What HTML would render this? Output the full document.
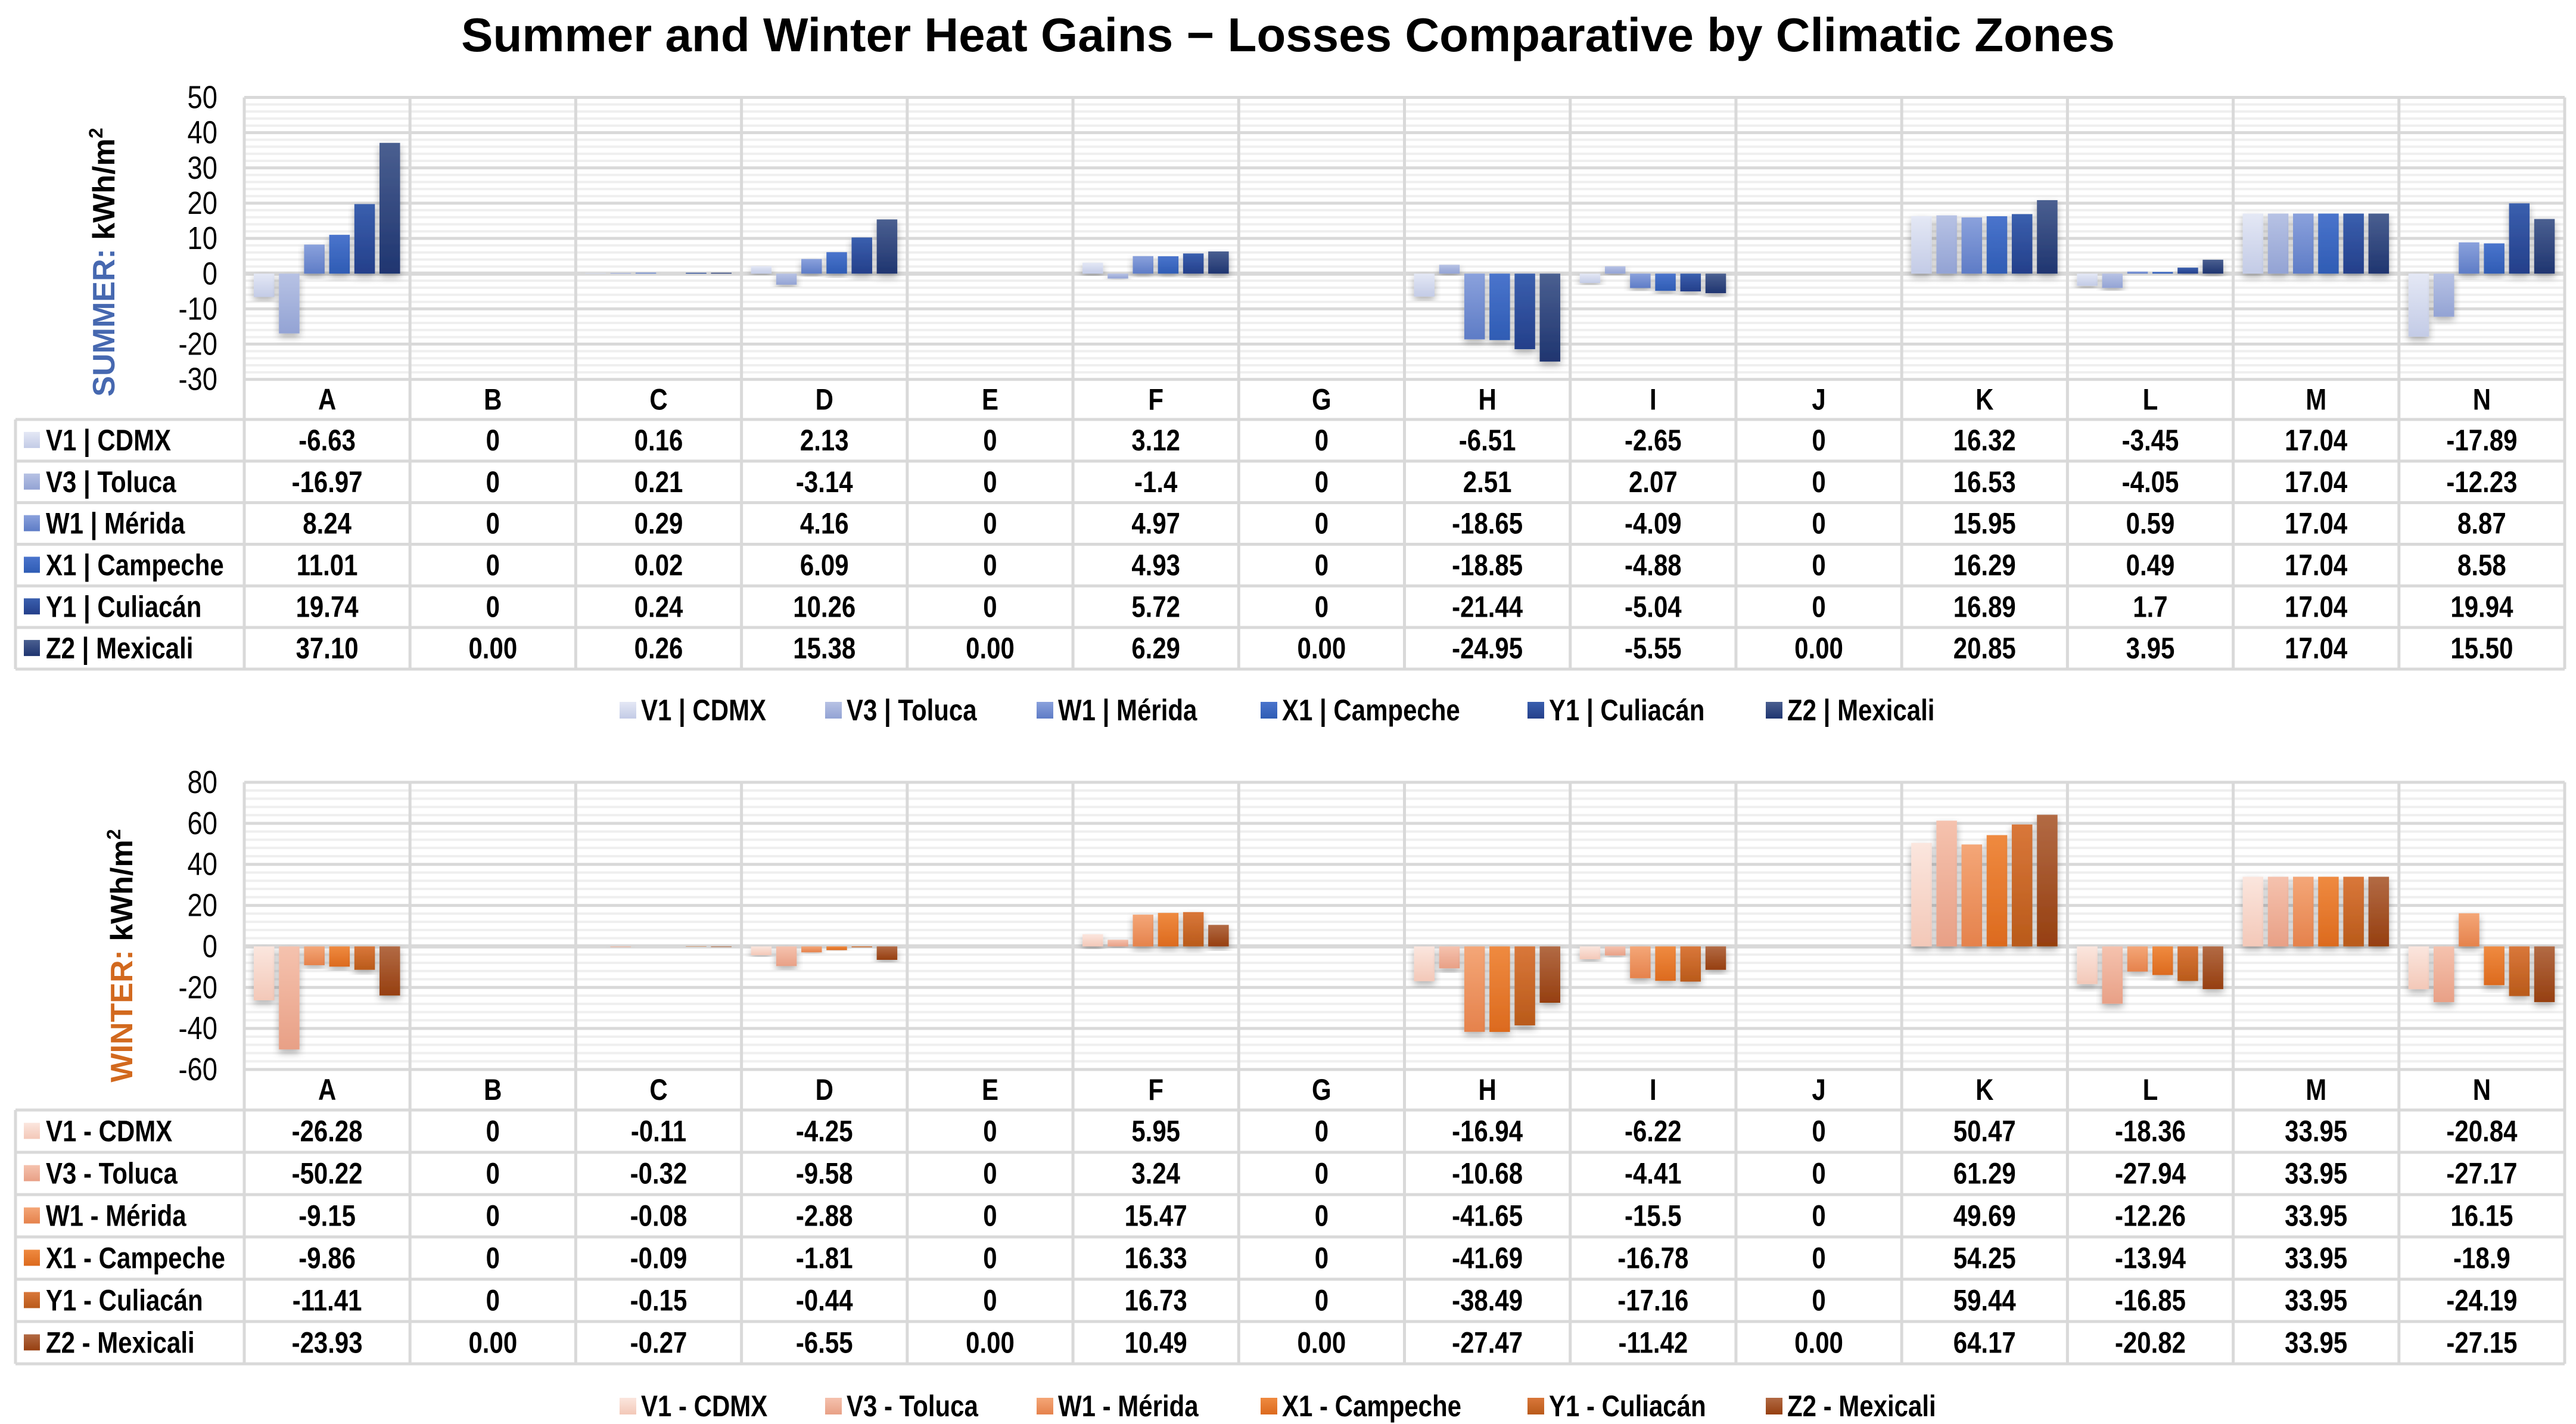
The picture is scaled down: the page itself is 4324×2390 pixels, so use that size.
<!DOCTYPE html>
<html><head><meta charset="utf-8"><style>
html,body{margin:0;padding:0;background:#fff;}
svg{display:block;font-family:"Liberation Sans Narrow","Liberation Sans",sans-serif;}
</style></head><body>
<svg id="c" width="4324" height="2390" viewBox="0 0 4324 2390" xmlns="http://www.w3.org/2000/svg">
<defs>
<filter id="sh" x="-30%" y="-10%" width="160%" height="130%"><feDropShadow dx="0" dy="6" stdDeviation="6" flood-color="#000" flood-opacity="0.3"/></filter>
</defs>
<text x="2162" y="86" text-anchor="middle" font-family="Liberation Sans, sans-serif" font-weight="bold" font-size="80" fill="#000">Summer and Winter Heat Gains − Losses Comparative by Climatic Zones</text>
</svg>
<script>
const categories = ["A","B","C","D","E","F","G","H","I","J","K","L","M","N"];
const summerSeriesNames = ["V1 | CDMX","V3 | Toluca","W1 | Mérida","X1 | Campeche","Y1 | Culiacán","Z2 | Mexicali"];
const winterSeriesNames = ["V1 - CDMX","V3 - Toluca","W1 - Mérida","X1 - Campeche","Y1 - Culiacán","Z2 - Mexicali"];
const summerV1 = [-6.63,0,0.16,2.13,0,3.12,0,-6.51,-2.65,0,16.32,-3.45,17.04,-17.89];
const summerV3 = [-16.97,0,0.21,-3.14,0,-1.4,0,2.51,2.07,0,16.53,-4.05,17.04,-12.23];
const summerW1 = [8.24,0,0.29,4.16,0,4.97,0,-18.65,-4.09,0,15.95,0.59,17.04,8.87];
const summerX1 = [11.01,0,0.02,6.09,0,4.93,0,-18.85,-4.88,0,16.29,0.49,17.04,8.58];
const summerY1 = [19.74,0,0.24,10.26,0,5.72,0,-21.44,-5.04,0,16.89,1.7,17.04,19.94];
const summerZ2 = [37.10,0,0.26,15.38,0,6.29,0,-24.95,-5.55,0,20.85,3.95,17.04,15.50];
const winterV1 = [-26.28,0,-0.11,-4.25,0,5.95,0,-16.94,-6.22,0,50.47,-18.36,33.95,-20.84];
const winterV3 = [-50.22,0,-0.32,-9.58,0,3.24,0,-10.68,-4.41,0,61.29,-27.94,33.95,-27.17];
const winterW1 = [-9.15,0,-0.08,-2.88,0,15.47,0,-41.65,-15.5,0,49.69,-12.26,33.95,16.15];
const winterX1 = [-9.86,0,-0.09,-1.81,0,16.33,0,-41.69,-16.78,0,54.25,-13.94,33.95,-18.9];
const winterY1 = [-11.41,0,-0.15,-0.44,0,16.73,0,-38.49,-17.16,0,59.44,-16.85,33.95,-24.19];
const winterZ2 = [-23.93,0,-0.27,-6.55,0,10.49,0,-27.47,-11.42,0,64.17,-20.82,33.95,-27.15];
const summerTicks = [50,40,30,20,10,0,-10,-20,-30];
const winterTicks = [80,60,40,20,0,-20,-40,-60];

const NS="http://www.w3.org/2000/svg";
const svg=document.getElementById('c');
function mk(tag,attrs,parent){const e=document.createElementNS(NS,tag);for(const k in attrs)e.setAttribute(k,attrs[k]);(parent||svg).appendChild(e);return e;}
function ctext(x,y,attrs,parent){attrs.x=0;attrs.y=0;attrs.transform='translate('+x+','+y+') scale(0.84,1)';return mk('text',attrs,parent);}

const sumColors=[["#e4e8f5","#c3cbe6"],["#b7c2e4","#93a3d4"],["#8aa1dc","#5e7cc6"],["#4a74cc","#2f5cb4"],["#3a5fae","#243f8a"],["#4a5f90","#1f3570"]];
const winColors=[["#fbe6de","#f3c8b8"],["#f5c2ae","#e8a086"],["#f4a677","#e5824c"],["#ef8a40","#dc6a1e"],["#d9773a","#b95a1a"],["#b26a44","#963f10"]];
const defs=svg.querySelector('defs');
function grads(prefix,cols){cols.forEach((c,i)=>{const g=mk('linearGradient',{id:prefix+i,x1:0,y1:0,x2:0,y2:1},defs);mk('stop',{offset:'0','stop-color':c[0]},g);mk('stop',{offset:'1','stop-color':c[1]},g);});}
grads('sg',sumColors);grads('wg',winColors);

const X0=410, X1=4305, CW=(X1-X0)/categories.length, TL=26;

function drawPanel(o){
  const series=o.series, ymin=o.min, ymax=o.max;
  const yS=v=>o.top+(ymax-v)/(ymax-ymin)*(o.bottom-o.top);
  const g=mk('g',{});
  
  
  for(let v=ymin; v<=ymax+1e-9; v+=o.minor){
    const l=mk('line',{x1:X0,x2:X1,y1:yS(v),y2:yS(v),stroke:'#efefef','stroke-width':4},g);
    
    
  }
  o.ticks.forEach(t=>{
    const l=mk('line',{x1:X0,x2:X1,y1:yS(t),y2:yS(t),stroke:'#d9d9d9','stroke-width':t===0?7:5},g);
    
    
    const tx=ctext(365,yS(t)+18,{'text-anchor':'end','font-size':54,fill:'#000'},g);
    tx.textContent=t;
    
    
  });
  const rowH=(o.tableBottom-o.tableTop)/6;
  for(let c=0;c<=categories.length;c++){
    const x=X0+c*CW;
    const l=mk('line',{x1:x,x2:x,y1:o.top,y2:o.tableBottom,stroke:'#d9d9d9','stroke-width':5},g);
    
    
  }
  mk('line',{x1:TL,x2:TL,y1:o.tableTop,y2:o.tableBottom,stroke:'#d9d9d9','stroke-width':5},g);
  for(let r=0;r<=6;r++){
    const y=o.tableTop+r*rowH;
    const l=mk('line',{x1:TL,x2:X1,y1:y,y2:y,stroke:'#d9d9d9','stroke-width':5},g);
    
    
  }
  series.forEach((vals,i)=>{
    vals.forEach((v,c)=>{
      const x=X0+c*CW+0.0575*CW+i*0.1517*CW, w=0.124*CW;
      const y0=yS(0), y1=yS(v);
      if(Math.abs(y1-y0)<0.5) return;
      const b=mk('rect',{x:x,y:Math.min(y0,y1),width:w,height:Math.abs(y1-y0),fill:'url(#'+o.grad+i+')',filter:'url(#sh)'},g);
      
      
    });
  });
  categories.forEach((cat,c)=>{
    const t=ctext(X0+(c+0.5)*CW,(o.bottom+o.tableTop)/2+17,{'text-anchor':'middle','font-size':50,'font-weight':'bold',fill:'#000'},g);
    t.textContent=cat;
    
    
  });
  series.forEach((vals,i)=>{
    const cy=o.tableTop+(i+0.5)*rowH;
    const m=mk('rect',{x:40,y:cy-14,width:27,height:27,fill:'url(#'+o.grad+i+')'},g);
    
    
    const lt=ctext(77,cy+17,{'font-size':50,'font-weight':'bold',fill:'#000'},g);
    lt.textContent=o.labels[i];
    
    
    vals.forEach((v,c)=>{
      const t=ctext(X0+(c+0.5)*CW,cy+17,{'text-anchor':'middle','font-size':50,'font-weight':'bold',fill:'#000'},g);
      t.textContent=(i===5)?v.toFixed(2):String(v);
      
      
    });
  });
  const lx=[1040,1385,1740,2116,2564,2964];
  o.labels.forEach((lab,i)=>{
    const m=mk('rect',{x:lx[i],y:o.legendY-14,width:28,height:28,fill:'url(#'+o.grad+i+')'},g);
    
    
    const t=ctext(lx[i]+36,o.legendY+17,{'font-size':50,'font-weight':'bold',fill:'#000'},g);
    t.textContent=lab;
    
    
  });
  const yt=mk('text',{x:0,y:0,transform:'translate('+(o.titleX)+','+o.titleY+') rotate(-90)','text-anchor':'middle','font-family':'Liberation Sans, sans-serif','font-size':52,'font-weight':'bold'},g);
  const t1=mk('tspan',{fill:o.titleColor},yt);t1.textContent=o.titleWord+' ';
  const t2=mk('tspan',{fill:'#000'},yt);t2.textContent='kWh/m';
  const t3=mk('tspan',{fill:'#000','font-size':32,dy:-20},yt);t3.textContent='2';
  
  
}

drawPanel({name:'summer',series:[summerV1,summerV3,summerW1,summerX1,summerY1,summerZ2],labels:summerSeriesNames,
  min:-30,max:50,minor:2,ticks:summerTicks,top:163.5,bottom:636.7,tableTop:704,tableBottom:1123,legendY:1192,grad:'sg',
  titleX:192,titleY:440,titleColor:'#4668b0',titleWord:'SUMMER:'});
drawPanel({name:'winter',series:[winterV1,winterV3,winterW1,winterX1,winterY1,winterZ2],labels:winterSeriesNames,
  min:-60,max:80,minor:4,ticks:winterTicks,top:1313,bottom:1795,tableTop:1863,tableBottom:2289,legendY:2360,grad:'wg',
  titleX:222,titleY:1604,titleColor:'#d2691e',titleWord:'WINTER:'});
</script>
</body></html>
